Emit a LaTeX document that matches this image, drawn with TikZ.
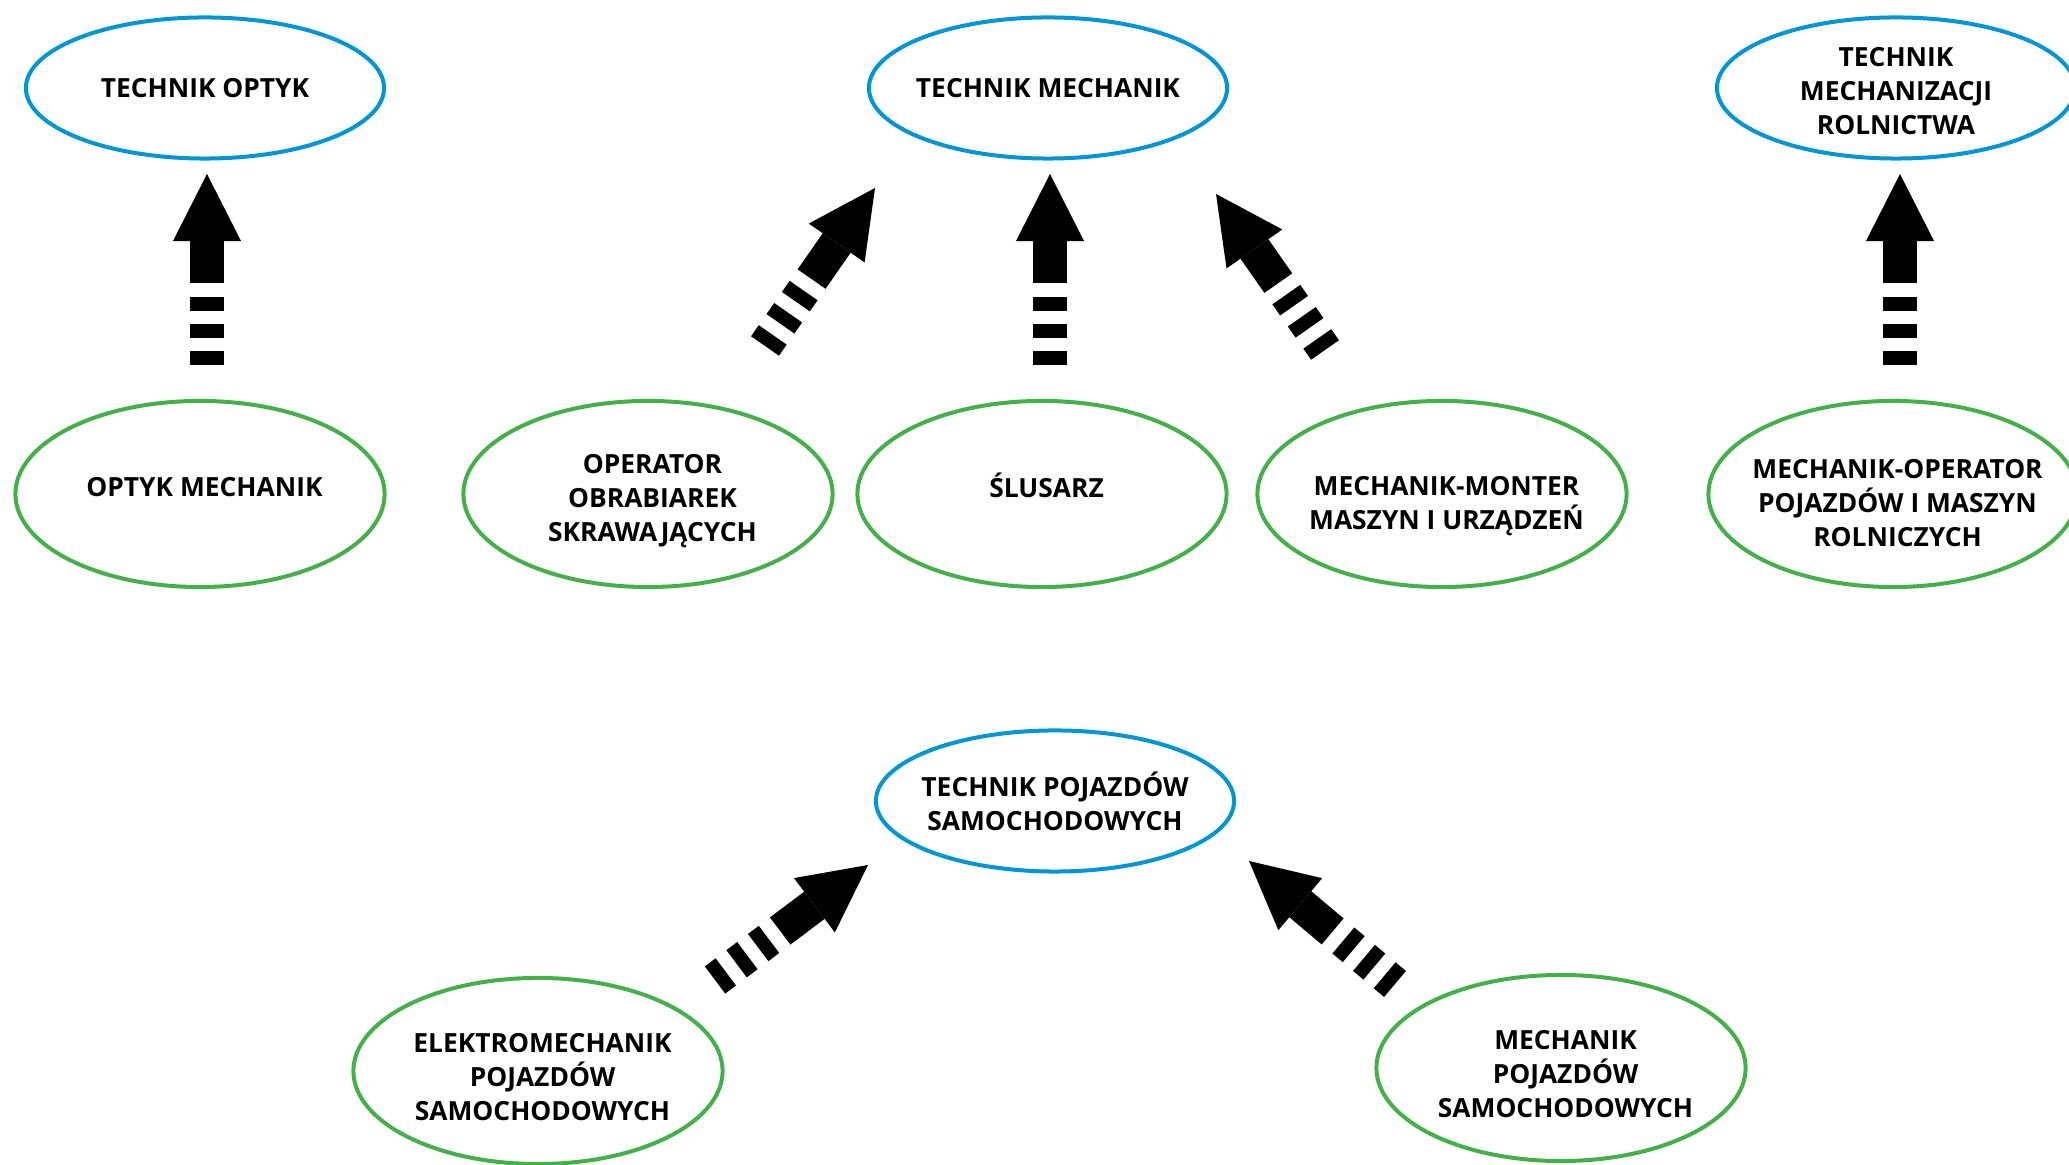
\documentclass[tikz,border=0pt]{standalone}
\usepackage{fontspec}
\setmainfont{Open Sans}
\usetikzlibrary{shapes.geometric, arrows.meta}
\definecolor{techblue}{RGB}{0,150,214}
\definecolor{tradegreen}{RGB}{67,176,73}
\begin{document}
\begin{tikzpicture}[x=0.01cm, y=-0.01cm,
  oval/.style={ellipse, draw, line width=0.04cm, inner sep=0pt},
  tech/.style={oval, draw=techblue, minimum width=3.58cm, minimum height=1.41cm},
  trade/.style={oval, draw=tradegreen, minimum width=3.69cm, minimum height=1.86cm},
  txt/.style={align=center, inner sep=0pt, font=\fontsize{7.5}{9.6}\selectfont\bfseries},
  tradetxt/.style={txt, xshift=0.045cm},
  upArrow/.style={black, line width=0.34cm,
    dash pattern=on 0.135cm off 0.135cm on 0.135cm off 0.135cm on 0.135cm off 0.14cm on 3cm,
    -{Triangle[length=0.67cm, width=0.68cm, line width=0pt]}}]
  \useasboundingbox (0,0) rectangle (2069,1165);
  % top row: technicians
  \node[tech, label={[txt]center:TECHNIK OPTYK}] (tOptyk) at (205,88) {};
  \node[tech, label={[txt]center:TECHNIK MECHANIK}] (tMech) at (1048,88) {};
  \node[tech, label={[txt, yshift=-0.03cm]center:{TECHNIK\\MECHANIZACJI\\ROLNICTWA}}] (tRoln) at (1896,88) {};
  % middle row: trades
  \node[trade, label={[tradetxt, yshift=0.07cm]center:OPTYK MECHANIK}] (optMech) at (200,494) {};
  \node[trade, label={[tradetxt, yshift=-0.07cm]center:{OPERATOR\\OBRABIAREK\\SKRAWAJĄCYCH}}] (operator) at (648,494) {};
  \node[trade, label={[tradetxt, yshift=0.09cm]center:ŚLUSARZ}] (slusarz) at (1042,494) {};
  \node[trade, label={[tradetxt, yshift=-0.12cm]center:{MECHANIK-MONTER\\MASZYN I URZĄDZEŃ}}] (monter) at (1442,494) {};
  \node[trade, label={[tradetxt, yshift=-0.09cm]center:{MECHANIK-OPERATOR\\POJAZDÓW I MASZYN\\ROLNICZYCH}}] (mechOper) at (1893,494) {};
  % bottom group: vehicles
  \node[tech, label={[txt]center:{TECHNIK POJAZDÓW\\SAMOCHODOWYCH}}] (tPoj) at (1055,801) {};
  \node[trade, label={[tradetxt, yshift=-0.06cm]center:{ELEKTROMECHANIK\\POJAZDÓW\\SAMOCHODOWYCH}}] (elektro) at (538,1071) {};
  \node[trade, label={[tradetxt, yshift=-0.06cm]center:{MECHANIK\\POJAZDÓW\\SAMOCHODOWYCH}}] (mechPoj) at (1561,1068) {};
  % arrow ends
  \coordinate (a1) at (207,365);  \coordinate (b1) at (207,174);
  \coordinate (a2) at (765,346);  \coordinate (b2) at (875,188);
  \coordinate (a3) at (1050,365); \coordinate (b3) at (1050,174);
  \coordinate (a4) at (1325,350); \coordinate (b4) at (1216,194);
  \coordinate (a5) at (1900,365); \coordinate (b5) at (1900,174);
  \coordinate (a6) at (715,980);  \coordinate (b6) at (868,865);
  \coordinate (a7) at (1395,984); \coordinate (b7) at (1249,861);
  \foreach \i in {1,...,7} {\draw[upArrow] (a\i) -- (b\i);}
\end{tikzpicture}
\end{document}
